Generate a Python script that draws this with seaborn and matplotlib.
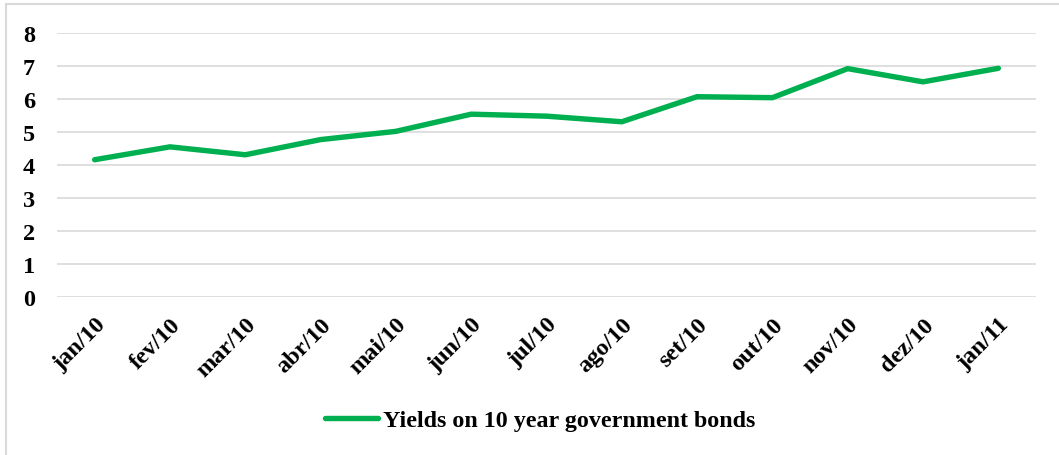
import matplotlib
matplotlib.use("Agg")
import matplotlib.pyplot as plt
from matplotlib.patches import Rectangle
import seaborn as sns
import pandas as pd

months = ["jan/10", "fev/10", "mar/10", "abr/10", "mai/10", "jun/10", "jul/10",
          "ago/10", "set/10", "out/10", "nov/10", "dez/10", "jan/11"]
yields = [4.16, 4.55, 4.31, 4.77, 5.02, 5.54, 5.48, 5.31, 6.07, 6.04, 6.92, 6.52, 6.93]
y_ticks = [0, 1, 2, 3, 4, 5, 6, 7, 8]
series_name = "Yields on 10 year government bonds"

df = pd.DataFrame({"month": months, "value": yields, "series": series_name})

sns.set_theme(style="white")
plt.rcParams["font.family"] = ["Liberation Serif", "DejaVu Serif"]
plt.rcParams["font.weight"] = "bold"
plt.rcParams["text.color"] = "black"
plt.rcParams["xtick.color"] = "black"
plt.rcParams["ytick.color"] = "black"

W, H = 1059, 456
fig = plt.figure(figsize=(W / 100, H / 100), dpi=100)
ax = fig.add_axes([57 / W, 1 - 298 / H, (1036 - 57) / W, (298 - 34) / H])

sns.lineplot(data=df, x="month", y="value", hue="series", palette=["#00B050"],
             linewidth=3.9, sort=False, ax=ax, legend=True)
for line in ax.lines:
    line.set_solid_capstyle("round")
    line.set_solid_joinstyle("miter")

ax.set_xlim(-0.5, len(months) - 0.5)
ax.set_ylim(0, 8)
ax.set_yticks(y_ticks)
ax.set_yticklabels([str(t) for t in y_ticks], fontsize=17.5, fontweight="bold",
                   color="black")
ax.set_xticks(range(len(months)))
ax.set_xticklabels(months, rotation=45, ha="right", rotation_mode="anchor",
                   fontsize=17.5, fontweight="bold", color="black")
ax.tick_params(axis="y", length=0, pad=16)
ax.tick_params(axis="x", length=0, pad=12)
ax.yaxis.grid(True, color="#D9D9D9", linewidth=1.2)
ax.set_axisbelow(True)
for s in ax.spines.values():
    s.set_visible(False)
ax.set_xlabel("")
ax.set_ylabel("")

handles, labels = ax.get_legend_handles_labels()
leg = ax.legend(handles, labels, loc="center", bbox_to_anchor=(540 / W, 1 - 421 / H),
                bbox_transform=fig.transFigure, frameon=False, handlelength=2.2,
                handletextpad=0.2, prop={"size": 17.3, "weight": "bold"})
for t in leg.get_texts():
    t.set_color("black")

fig.patches.append(Rectangle((6 / W, -0.1), 1.2, 1.1 - 5 / H, transform=fig.transFigure,
                             fill=False, edgecolor="#D9D9D9", linewidth=1.5))

fig.savefig("out.png", dpi=100)
